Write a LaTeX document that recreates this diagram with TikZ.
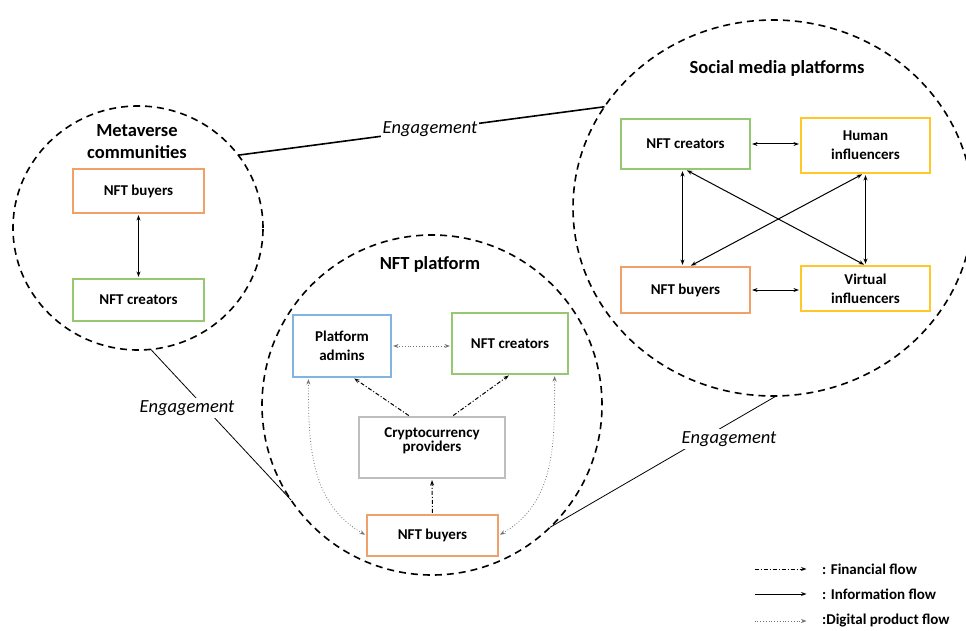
\documentclass[tikz,border=0pt]{standalone}
\usepackage{fontspec}
\setmainfont{Carlito}
\usetikzlibrary{shapes.geometric,arrows.meta}

\definecolor{boxorange}{RGB}{241,160,105}
\definecolor{boxgreen}{RGB}{150,200,115}
\definecolor{boxblue}{RGB}{130,180,225}
\definecolor{boxyellow}{RGB}{255,200,40}
\definecolor{boxgray}{RGB}{190,190,190}

\tikzstyle{entity}=[draw,rectangle,line width=1.2pt,fill=white,align=center,inner sep=2pt,font=\fontsize{15}{19}\selectfont\bfseries]
\tikzstyle{buyer}=[entity,draw=boxorange]
\tikzstyle{creator}=[entity,draw=boxgreen]
\tikzstyle{admin}=[entity,draw=boxblue]
\tikzstyle{influencer}=[entity,draw=boxyellow]
\tikzstyle{provider}=[entity,draw=boxgray]
\tikzstyle{zone}=[draw,ellipse,line width=1.6pt,dash pattern=on 7pt off 5pt,inner sep=0pt,outer sep=0pt]
\tikzstyle{zonetitle}=[align=center,font=\fontsize{18.5}{22}\selectfont\bfseries]
\tikzstyle{englabel}=[fill=white,inner sep=2pt,font=\fontsize{18.5}{22}\selectfont\itshape]
\tikzstyle{engline}=[line width=0.8pt]
\tikzstyle{infoflow}=[line width=1pt,shorten <=1.5pt,shorten >=1.5pt]
\tikzstyle{finflow}=[line width=1pt,dash pattern=on 4pt off 2pt on 1pt off 2pt,shorten <=1.5pt,shorten >=1.5pt]
\tikzstyle{prodflow}=[line width=0.8pt,black!55,dotted,shorten <=1.5pt,shorten >=1.5pt]
\tikzstyle{legtext}=[anchor=west,inner sep=2pt,font=\fontsize{15}{18}\selectfont\bfseries]

\begin{document}
\begin{tikzpicture}[x=1pt,y=1pt,>={Stealth[length=5.5pt,width=4pt]}]
    \useasboundingbox (0,0) rectangle (966,-631);
    % the three communities
    \node [zone,minimum width=250pt,minimum height=244pt] (meta) at (138,-228) {};
    \node [zone,minimum width=400pt,minimum height=376pt] (soc) at (773,-208) {};
    \node [zone,minimum width=340pt,minimum height=340pt] (plat) at (432,-405) {};
    \node [zonetitle] (metatitle) at (137,-142) {Metaverse\\communities};
    \node [zonetitle] (soctitle) at (777,-68) {Social media platforms};
    \node [zonetitle] (plattitle) at (430,-264) {NFT platform};

    % metaverse communities
    \node [buyer,minimum width=131pt,minimum height=44pt] (mbuy) at (138.5,-191) {NFT buyers};
    \node [creator,minimum width=131pt,minimum height=42pt] (mcre) at (138.5,-300) {NFT creators};
    \draw [infoflow,<->] (mbuy) -- (mcre);

    % social media platforms
    \node [creator,minimum width=129pt,minimum height=50pt] (scre) at (685.5,-144) {NFT creators};
    \node [influencer,minimum width=129pt,minimum height=55pt] (shum) at (865.5,-145.5) {Human\\influencers};
    \node [buyer,minimum width=129pt,minimum height=46pt] (sbuy) at (685.5,-290) {NFT buyers};
    \node [influencer,minimum width=129pt,minimum height=45pt] (svir) at (865.5,-288.5) {Virtual\\influencers};
    \draw [infoflow,<->] (scre.east) -- (scre.east -| shum.west);
    \draw [infoflow,<->] (sbuy.east) -- (sbuy.east -| svir.west);
    \draw [infoflow,<->] ([xshift=-3pt]scre.south) -- ([xshift=-3pt]scre.south |- sbuy.north);
    \draw [infoflow,<->] (shum.south) -- (shum.south |- svir.north);
    \draw [infoflow,<->] (scre.south) -- (svir.north);
    \draw [infoflow,<->] ([xshift=4pt]sbuy.north) -- ([xshift=-2pt]shum.south);

    % NFT platform
    \node [admin,minimum width=98pt,minimum height=62pt] (padm) at (342,-346) {Platform\\admins};
    \node [creator,minimum width=116pt,minimum height=61pt] (pcre) at (510,-343.5) {NFT creators};
    \node [provider,minimum width=146pt,minimum height=61pt,text depth=16pt] (pcry) at (432,-447.5) {Cryptocurrency\\[-5pt]providers};
    \node [buyer,minimum width=131pt,minimum height=41pt] (pbuy) at (432.5,-535.5) {NFT buyers};
    \draw [prodflow,<->] (padm.east) -- (padm.east -| pcre.west);
    \draw [finflow,->] ([xshift=-22pt]pcry.north) -- ([xshift=11pt]padm.south);
    \draw [finflow,->] ([xshift=20pt]pcry.north) -- (pcre.south);
    \draw [finflow,->] (pbuy.north) -- (pcry.south);
    \draw [prodflow,<->] (pbuy.west) to[out=150,in=-90] ([xshift=16pt]padm.south west);
    \draw [prodflow,<->] (pbuy.east) to[out=30,in=-90] ([xshift=-14pt]pcre.south east);

    % engagement between communities
    \draw [engline,line width=1.6pt] (meta.36) -- (soc.149);
    \node [englabel] (engtop) at (430,-129) {Engagement};
    \draw [engline] (meta.-84) -- (plat.214);
    \node [englabel] (engleft) at (187,-408) {Engagement};
    \draw [engline] (soc.-89) -- (plat.-46);
    \node [englabel] (engright) at (729,-439) {Engagement};

    % legend
    \node [legtext] (lfin) at (820,-569) {: Financial flow};
    \node [legtext] (linf) at (820,-594) {: Information flow};
    \node [legtext] (ldig) at (820,-621) {:Digital product flow};
    \draw [finflow,->] ([xshift=-67pt]lfin.west) -- ([xshift=-12pt]lfin.west);
    \draw [infoflow,->] ([xshift=-67pt]linf.west) -- ([xshift=-12pt]linf.west);
    \draw [prodflow,->] ([xshift=-67pt]ldig.west) -- ([xshift=-12pt]ldig.west);
\end{tikzpicture}
\end{document}
